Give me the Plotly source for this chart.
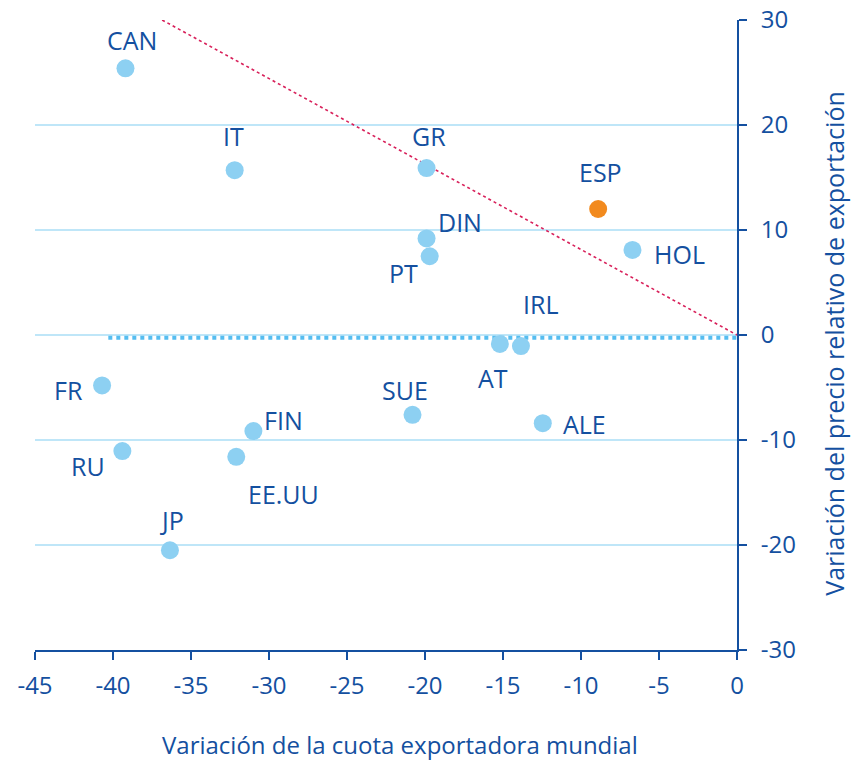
import plotly.graph_objects as go

countries = ["CAN", "IT", "GR", "ESP", "DIN", "PT", "HOL", "IRL", "AT", "FR", "SUE", "ALE", "FIN", "RU", "EE.UU", "JP"]
cuota = [-39.2, -32.2, -19.9, -8.9, -19.9, -19.7, -6.7, -13.85, -15.2, -40.7, -20.8, -12.45, -31.0, -39.4, -32.1, -36.35]
precio = [25.4, 15.7, 15.9, 12.0, 9.2, 7.5, 8.1, -1.05, -0.85, -4.8, -7.6, -8.4, -9.15, -11.05, -11.6, -20.5]

# label offsets (pixels) relative to each point
label_dx = [7, -1, 2, 2, 33, -26, 47, 20, -7, -34, -8, 42, 30, -34, 47, 2]
label_dy = [28, 34, 32, 37, 16, -17, -4, 42, -34, -5, 25, -1, 11, -15, -37, 30]

ref_line_x = [-36.85, 0]
ref_line_y = [30, 0]
zero_line_x = [-40.3, 0]
zero_line_y = [-0.25, -0.25]

x_ticks = [-45, -40, -35, -30, -25, -20, -15, -10, -5, 0]
y_ticks = [-30, -20, -10, 0, 10, 20, 30]

TEXT = "#1450a0"
LIGHT = "#8dd0f2"
ORANGE = "#f28a1e"
FONT = "Open Sans"

colors = [ORANGE if c == "ESP" else LIGHT for c in countries]

fig = go.Figure()
fig.add_trace(go.Scatter(x=zero_line_x, y=zero_line_y, mode="lines",
                         line=dict(color="#55bdf0", width=4, dash="dot"),
                         hoverinfo="skip", showlegend=False))
fig.add_trace(go.Scatter(x=ref_line_x, y=ref_line_y, mode="lines",
                         line=dict(color="#d8205a", width=1.6, dash="dot"),
                         hoverinfo="skip", showlegend=False))
fig.add_trace(go.Scatter(x=cuota, y=precio, mode="markers",
                         marker=dict(size=18, color=colors, line=dict(width=0)),
                         text=countries, showlegend=False))

for c, x, y, dx, dy in zip(countries, cuota, precio, label_dx, label_dy):
    fig.add_annotation(x=x, y=y, text=c, showarrow=False, xshift=dx, yshift=dy,
                       font=dict(family=FONT, size=25, color=TEXT))

fig.add_annotation(xref="paper", yref="paper", x=0.52, y=-0.1775, yanchor="bottom",
                   text="Variación de la cuota exportadora mundial", showarrow=False,
                   borderpad=0,
                   font=dict(family=FONT, size=24, color=TEXT))
fig.add_annotation(xref="paper", yref="paper", x=1.139, y=0.487, xanchor="center",
                   yanchor="middle", textangle=-90,
                   text="Variación del precio relativo de exportación", showarrow=False,
                   font=dict(family=FONT, size=25, color=TEXT))

fig.update_layout(
    width=851, height=762,
    margin=dict(l=35, r=114, t=20, b=112),
    paper_bgcolor="white", plot_bgcolor="white",
    font=dict(family=FONT, size=24, color=TEXT),
    xaxis=dict(range=[-45, 0], tickvals=x_ticks, ticktext=[str(v) for v in x_ticks],
               showgrid=False, zeroline=False, showline=True, linecolor=TEXT, linewidth=2,
               ticks="outside", ticklen=8, tickwidth=2, tickcolor=TEXT, ticklabelstandoff=5,
               automargin=False,
               tickfont=dict(family=FONT, size=24, color=TEXT)),
    yaxis=dict(range=[-30, 30], tickvals=y_ticks, ticktext=[str(v) for v in y_ticks],
               side="right", showgrid=True, gridcolor="#bfe6f8", gridwidth=2,
               zeroline=False, showline=True, linecolor=TEXT, linewidth=2,
               ticks="outside", ticklen=8, tickwidth=2, tickcolor=TEXT, ticklabelstandoff=9,
               automargin=False,
               tickfont=dict(family=FONT, size=24, color=TEXT)),
)

fig.write_html("out.html", config={"displayModeBar": False},
               post_script="document.body.style.margin='0';document.body.style.overflow='hidden';")
